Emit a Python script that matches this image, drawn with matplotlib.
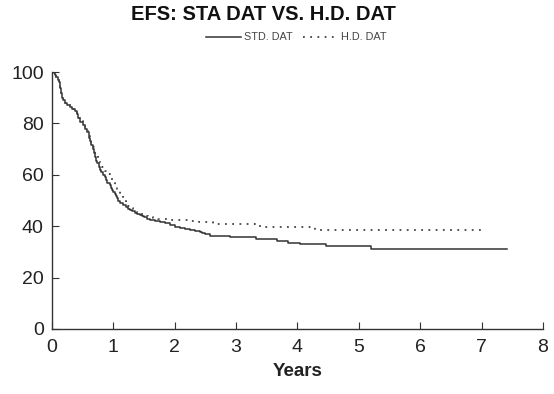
import numpy as np
import matplotlib.pyplot as plt

plt.rcParams['font.family'] = ['Liberation Sans', 'DejaVu Sans']

# event-free survival, standard dose
std_t = [0, 0.03, 0.05, 0.07, 0.09, 0.11, 0.13, 0.14, 0.16, 0.18, 0.21, 0.25, 0.29, 0.33,
         0.37, 0.40, 0.43, 0.46, 0.50, 0.54, 0.57, 0.60, 0.62, 0.64, 0.66, 0.68, 0.70,
         0.72, 0.74, 0.76, 0.78, 0.80, 0.83, 0.86, 0.88, 0.90, 0.94, 0.96, 0.98, 1.00,
         1.02, 1.04, 1.06, 1.08, 1.11, 1.15, 1.20, 1.23, 1.27, 1.31, 1.35, 1.39, 1.43,
         1.47, 1.50, 1.55, 1.60, 1.68, 1.76, 1.84, 1.92, 2.00, 2.08, 2.16, 2.25, 2.33,
         2.41, 2.45, 2.49, 2.57, 2.90, 3.33, 3.66, 3.85, 4.04, 4.47, 5.20, 7.41]
std_s = [100, 99.5, 99, 98, 97, 96, 94, 92, 90, 89, 88, 87.3, 86.6, 85.6,
         84.7, 83.5, 82, 80.7, 79.5, 78, 76.5, 74.5, 73, 71.5, 70, 68.5, 67,
         65.5, 64.5, 63, 62, 61, 60, 59, 58, 57, 56, 55, 54.2, 53.5,
         52.5, 51.8, 51, 50, 49, 48.2, 47.5, 46.9, 46.3, 45.8, 45.3, 44.8, 44.4,
         43.9, 43.5, 43, 42.4, 42.1, 41.8, 41.2, 40.5, 39.8, 39.2, 38.8, 38.5, 38.2,
         37.9, 37.3, 36.8, 36.2, 35.7, 34.9, 34.2, 33.6, 32.9, 32.4, 31.0, 31.0]

# high dose
hd_t = [0, 0.03, 0.05, 0.07, 0.09, 0.11, 0.13, 0.14, 0.16, 0.18, 0.21, 0.25, 0.29, 0.33,
        0.37, 0.40, 0.43, 0.46, 0.50, 0.54, 0.57, 0.60, 0.62, 0.64, 0.66, 0.68, 0.70,
        0.72, 0.75, 0.78, 0.82, 0.86, 0.90, 0.94, 0.98, 1.02, 1.06, 1.10, 1.13, 1.16,
        1.20, 1.24, 1.28, 1.32, 1.36, 1.40, 1.45, 1.49, 1.53, 1.57, 1.65, 1.73, 1.81,
        1.95, 2.10, 2.25, 2.40, 2.62, 3.39, 4.28, 7.08]
hd_s = [100, 99.5, 99, 98, 97, 96, 94, 92, 90, 89, 88, 87.3, 86.6, 85.6,
        84.7, 83.7, 82.3, 81, 79.8, 78.5, 77, 75.3, 74, 72.5, 71, 69.7, 68.5,
        67.2, 66, 64.6, 63, 61.5, 60.2, 59, 57.5, 56, 54.5, 53, 51.6, 50.2,
        49, 48, 47.1, 46.3, 45.7, 45.2, 44.8, 44.4, 44, 43.7, 43.2, 43, 42.8,
        42.5, 42.3, 42, 41.7, 40.8, 39.8, 38.5, 38.5]

fig = plt.figure(figsize=(5.54, 3.94), dpi=100)
ax = fig.add_axes([0.094, 0.165, 0.886, 0.652])

ax.plot(std_t, std_s, drawstyle='steps-post', color='#333333', lw=1.1, label='STD. DAT')
ax.plot(hd_t, hd_s, drawstyle='steps-post', color='#444444', lw=1.3,
        linestyle=(0, (1, 3)), label='H.D. DAT')

ax.set_xlim(0, 8)
ax.set_ylim(0, 100)
ax.set_xticks(range(0, 9))
ax.set_yticks(range(0, 101, 20))
ax.spines['top'].set_visible(False)
ax.spines['right'].set_visible(False)
for s in ['left', 'bottom']:
    ax.spines[s].set_color('#333333')
    ax.spines[s].set_linewidth(1.0)
ax.tick_params(direction='in', length=5, color='#333333', labelsize=14, labelcolor='#222222')
ax.tick_params(axis='x', pad=7)
ax.tick_params(axis='y', pad=6)
ax.set_xlabel('Years', fontsize=13.5, fontweight='bold', color='#222222', labelpad=5)

fig.text(0.475, 0.962, 'EFS: STA DAT VS. H.D. DAT', ha='center', va='center',
         fontsize=14.5, fontweight='bold', color='#111111')
fig.legend(loc='center', bbox_to_anchor=(0.535, 0.905), ncol=2, frameon=False,
           fontsize=7.8, labelcolor='#444444', handlelength=3.2, handletextpad=0.3,
           columnspacing=0.9)

fig.savefig('out.png', dpi=100)
